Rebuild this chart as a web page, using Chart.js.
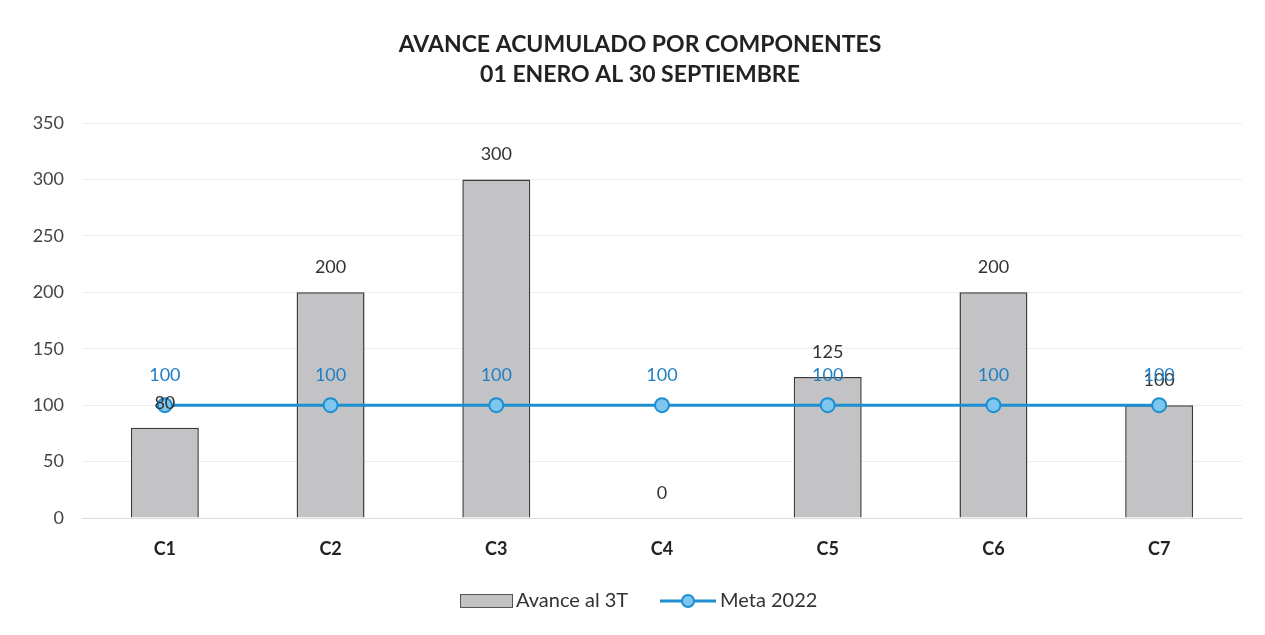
<!DOCTYPE html>
<html>
<head>
<meta charset="utf-8">
<script src="https://cdn.jsdelivr.net/npm/chart.js@4"></script>
<style>
  body { margin: 0; background: #fff; }
  canvas { display: block; }
</style>
</head>
<body>
<canvas id="chart" width="1265" height="635"></canvas>
<script>
const categories = ['C1', 'C2', 'C3', 'C4', 'C5', 'C6', 'C7'];
const avance = [80, 200, 300, 0, 125, 200, 100];
const meta = [100, 100, 100, 100, 100, 100, 100];
const titleLines = ['AVANCE ACUMULADO POR COMPONENTES', '01 ENERO AL 30 SEPTIEMBRE'];

const FONT = 'Lato, "Open Sans", sans-serif';
const barFill = '#c3c3c6';
const barBorder = '#3a3a3a';
const lineBlue = '#1b8fd0';
const pointFill = '#7fc6ef';

// title, value labels and legend drawn on the canvas
const extras = {
    id: 'extras',
    afterDraw(chart) {
        const ctx = chart.ctx;
        ctx.save();
        ctx.textAlign = 'center';
        ctx.textBaseline = 'middle';

        ctx.fillStyle = '#222';
        ctx.font = 'bold 23px ' + FONT;
        ctx.fillText(titleLines[0], 640, 45);
        ctx.fillText(titleLines[1], 640, 75);

        ctx.font = '18px ' + FONT;
        chart.getDatasetMeta(0).data.forEach((el, i) => {
            ctx.fillStyle = '#333';
            ctx.fillText(String(avance[i]), el.x, el.y - 25);
        });
        chart.getDatasetMeta(1).data.forEach((el, i) => {
            ctx.fillStyle = '#1f7fc4';
            ctx.fillText(String(meta[i]), el.x, el.y - 30);
        });

        // legend
        const ly = 601;
        ctx.fillStyle = barFill;
        ctx.strokeStyle = '#555';
        ctx.lineWidth = 1;
        ctx.fillRect(460, ly - 7, 53, 14);
        ctx.strokeRect(460.5, ly - 6.5, 52, 13);
        ctx.textAlign = 'left';
        ctx.fillStyle = '#333';
        ctx.font = '20px ' + FONT;
        ctx.fillText('Avance al 3T', 516, ly);

        ctx.strokeStyle = lineBlue;
        ctx.lineWidth = 3;
        ctx.beginPath();
        ctx.moveTo(660, ly);
        ctx.lineTo(716, ly);
        ctx.stroke();
        ctx.beginPath();
        ctx.arc(688, ly, 6, 0, Math.PI * 2);
        ctx.fillStyle = pointFill;
        ctx.fill();
        ctx.lineWidth = 2;
        ctx.stroke();
        ctx.fillStyle = '#333';
        ctx.fillText('Meta 2022', 720, ly);
        ctx.restore();
    }
};

new Chart(document.getElementById('chart'), {
    type: 'bar',
    data: {
        labels: categories,
        datasets: [{
            type: 'bar',
            label: 'Avance al 3T',
            data: avance,
            backgroundColor: barFill,
            borderColor: barBorder,
            borderWidth: 1.5,
            categoryPercentage: 1,
            barPercentage: 0.41,
            order: 1
        }, {
            type: 'line',
            label: 'Meta 2022',
            data: meta,
            borderColor: lineBlue,
            borderWidth: 3,
            pointRadius: 7,
            pointBorderWidth: 2,
            pointBackgroundColor: pointFill,
            pointBorderColor: lineBlue,
            fill: false,
            order: 0
        }]
    },
    options: {
        responsive: false,
        animation: false,
        layout: { padding: { top: 123, left: 10, right: 23, bottom: 67 } },
        plugins: {
            legend: { display: false },
            tooltip: { enabled: false },
            title: { display: false }
        },
        scales: {
            x: {
                grid: { display: false },
                border: { color: '#dcdcdc' },
                ticks: { color: '#222', font: { family: FONT, size: 18, weight: 'bold' }, padding: 12 },
                afterFit(scale) { scale.height = 50; }
            },
            y: {
                min: 0,
                max: 350,
                ticks: { stepSize: 50, color: '#444', font: { family: FONT, size: 18 }, padding: 18 },
                grid: { color: 'rgba(0,0,0,0.07)', drawTicks: false },
                border: { display: false },
                afterFit(scale) { scale.width = 72; }
            }
        }
    },
    plugins: [extras]
});
</script>
</body>
</html>
